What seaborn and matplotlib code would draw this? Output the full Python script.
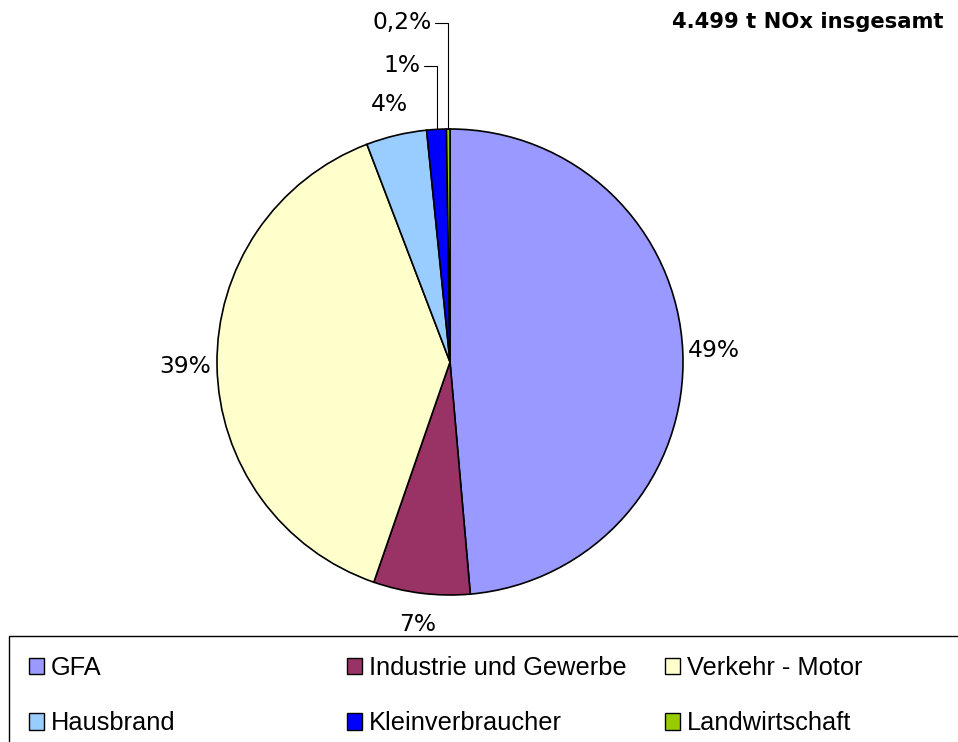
import numpy as np
import matplotlib
matplotlib.use("Agg")
import matplotlib.pyplot as plt
import seaborn as sns
from matplotlib.patches import Rectangle, Patch

sns.set_theme(style="white")
plt.rcParams['font.family'] = ['DejaVu Sans']
plt.rcParams['text.color'] = 'black'

# NOx emissions in t
categories = ["GFA", "Industrie und Gewerbe", "Verkehr - Motor", "Hausbrand", "Kleinverbraucher", "Landwirtschaft"]
values = [2187, 301, 1750, 189, 61, 11]
colors = ["#9999FF", "#993366", "#FFFFCC", "#99CCFF", "#0000FF", "#99CC00"]
title = "4.499 t NOx insgesamt"

def fmt(v, total):
    p = 100 * v / total
    if p < 1:
        return f"{p:.1f}%".replace(".", ",")
    return f"{p:.0f}%"

total = sum(values)
labels = [fmt(v, total) for v in values]

W, H = 958, 742
fig = plt.figure(figsize=(W / 100, H / 100), dpi=100)
ax = fig.add_axes([0, 0, 1, 1])

cx, cy, R = 450, H - 362, 233
wedges, texts = ax.pie(values, colors=colors, startangle=90, counterclock=False,
                       center=(cx, cy), radius=R, labels=labels, labeldistance=1.135,
                       wedgeprops=dict(edgecolor="black", linewidth=1.2),
                       textprops=dict(fontsize=16.8, color="black"))
ax.set_xlim(0, W)
ax.set_ylim(0, H)
ax.set_aspect("equal")
ax.axis("off")

for t in texts:
    t.set_ha("center")
    t.set_va("center")

# small slices: labels with leader lines
small = [(4, H - 66), (5, H - 23)]
for i, ly in small:
    w = wedges[i]
    mid = np.deg2rad((w.theta1 + w.theta2) / 2)
    px = cx + R * np.cos(mid)
    py = cy + R * np.sin(mid)
    lx = px - 13
    ax.plot([px, px, lx], [py, ly, ly], color="black", lw=0.8)
    texts[i].set_position((lx - 3, ly))
    texts[i].set_ha("right")

fig.text(943 / W, 1 - 22 / H, title, ha="right", va="center", fontsize=15.2, fontweight="bold")

# legend box
fig.patches.append(Rectangle((9 / W, -0.01), 1.0, (H - 636) / H + 0.01, transform=fig.transFigure,
                             facecolor="white", edgecolor="black", lw=1))

col_x = [16, 334, 652]
for c in range(3):
    idx = [c, c + 3]
    handles = [Patch(facecolor=colors[j], edgecolor="black", lw=1) for j in idx]
    fig.legend(handles, [categories[j] for j in idx], loc="upper left",
               bbox_to_anchor=(col_x[c] / W, 1 - 643 / H), frameon=False,
               prop=dict(family="Liberation Sans", size=18.3),
               handlelength=0.6, handleheight=0.6, handletextpad=0.28,
               labelspacing=1.25, borderpad=0)

fig.savefig("out.png", dpi=100, facecolor="white")
